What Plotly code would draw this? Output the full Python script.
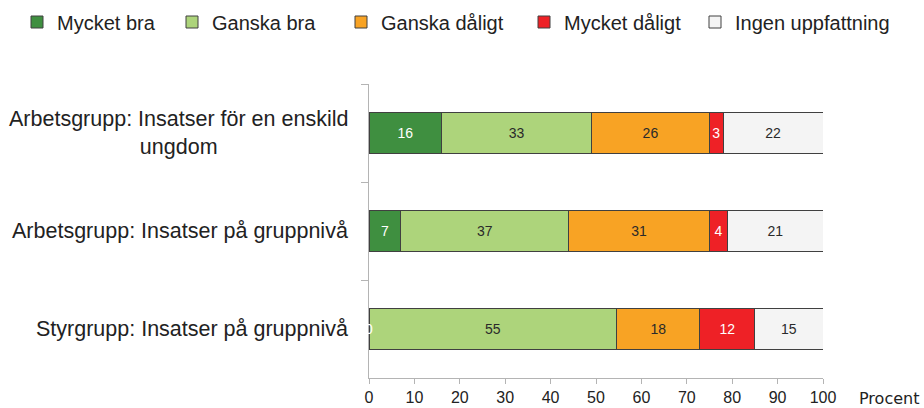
import plotly.graph_objects as go

categories = [
    "Arbetsgrupp: Insatser för en enskild<br>ungdom",
    "Arbetsgrupp: Insatser på gruppnivå",
    "Styrgrupp: Insatser på gruppnivå",
]
series_names = ["Mycket bra", "Ganska bra", "Ganska dåligt", "Mycket dåligt", "Ingen uppfattning"]
mycket_bra = [16, 7, 0]
ganska_bra = [33, 37, 54.6]
ganska_daligt = [26, 31, 18.3]
mycket_daligt = [3, 4, 12.1]
ingen_uppfattning = [22, 21, 15.0]
x_ticks = [0, 10, 20, 30, 40, 50, 60, 70, 80, 90, 100]

series_values = [mycket_bra, ganska_bra, ganska_daligt, mycket_daligt, ingen_uppfattning]
colors = ["#3f8f40", "#add47b", "#f8a324", "#ee2126", "#f4f4f4"]
text_colors = ["white", "#2a2a2a", "#2a2a2a", "white", "#2a2a2a"]
legend_text_x = [57, 212, 381, 564, 735]

FONT = "Liberation Sans, Arial, sans-serif"

fig = go.Figure()
for i, (name, vals) in enumerate(zip(series_names, series_values)):
    lg = "legend" if i == 0 else f"legend{i+1}"
    fig.add_trace(go.Bar(
        y=categories, x=vals, name=name, orientation="h",
        marker=dict(color=colors[i], line=dict(color="#404040", width=1)),
        text=[str(int(round(v))) for v in vals], texttemplate="%{text}",
        textposition="inside", insidetextanchor="middle", textangle=0,
        constraintext="none",
        textfont=dict(family=FONT, size=14, color=text_colors[i]),
        legend=lg, showlegend=True, hoverinfo="x+name",
    ))

layout_legends = {}
for i in range(len(series_names)):
    key = "legend" if i == 0 else f"legend{i+1}"
    layout_legends[key] = dict(
        xref="container", yref="container",
        x=(legend_text_x[i] - 40) / 924, y=1 - 22 / 408,
        xanchor="left", yanchor="middle",
        orientation="h", bgcolor="rgba(0,0,0,0)",
        font=dict(family=FONT, size=20, color="#222222"),
        itemwidth=30,
    )

annotations = []
for c in categories:
    annotations.append(dict(
        x=0, y=c, xref="x", yref="y", xanchor="right", xshift=-19,
        text=c, showarrow=False, align="center",
        font=dict(family=FONT, size=21.5, color="#222222"),
    ))
# zero-valued segment labels
for i, vals in enumerate(series_values):
    for c, v in zip(categories, vals):
        if v == 0:
            annotations.append(dict(
                x=0, y=c, xref="x", yref="y", text="0", showarrow=False,
                font=dict(family=FONT, size=14, color=text_colors[i]),
            ))
annotations.append(dict(
    x=1, y=0, xref="paper", yref="paper", xanchor="left", yanchor="middle",
    xshift=34, yshift=-20, text="Procent", showarrow=False,
    font=dict(family="DejaVu Sans, Verdana, sans-serif", size=16, color="#222222"),
))

fig.update_layout(
    width=924, height=408,
    margin=dict(l=369, r=101, t=84, b=30),
    barmode="stack", bargap=0.59,
    plot_bgcolor="white", paper_bgcolor="white",
    font=dict(family=FONT, color="#222222"),
    annotations=annotations,
    showlegend=True,
    **layout_legends,
)
fig.update_xaxes(
    range=[0, 100], tickvals=x_ticks, ticktext=[str(t) for t in x_ticks],
    showline=True, linecolor="#b4b4b4", linewidth=1,
    ticks="outside", ticklen=5, tickcolor="#b4b4b4",
    showgrid=False, zeroline=False, automargin=False,
    tickfont=dict(family=FONT, size=16, color="#222222"),
)
fig.update_yaxes(
    type="category", categoryorder="array", categoryarray=categories,
    range=[2.5, -0.5], showline=True, linecolor="#b4b4b4", linewidth=1,
    ticks="outside", ticklen=7, tickcolor="#b4b4b4", tickson="boundaries",
    showticklabels=False, showgrid=False, zeroline=False, automargin=False,
)

fig.write_html(
    "out.html",
    config={"displayModeBar": False},
    post_script="document.body.style.margin='0';",
)
